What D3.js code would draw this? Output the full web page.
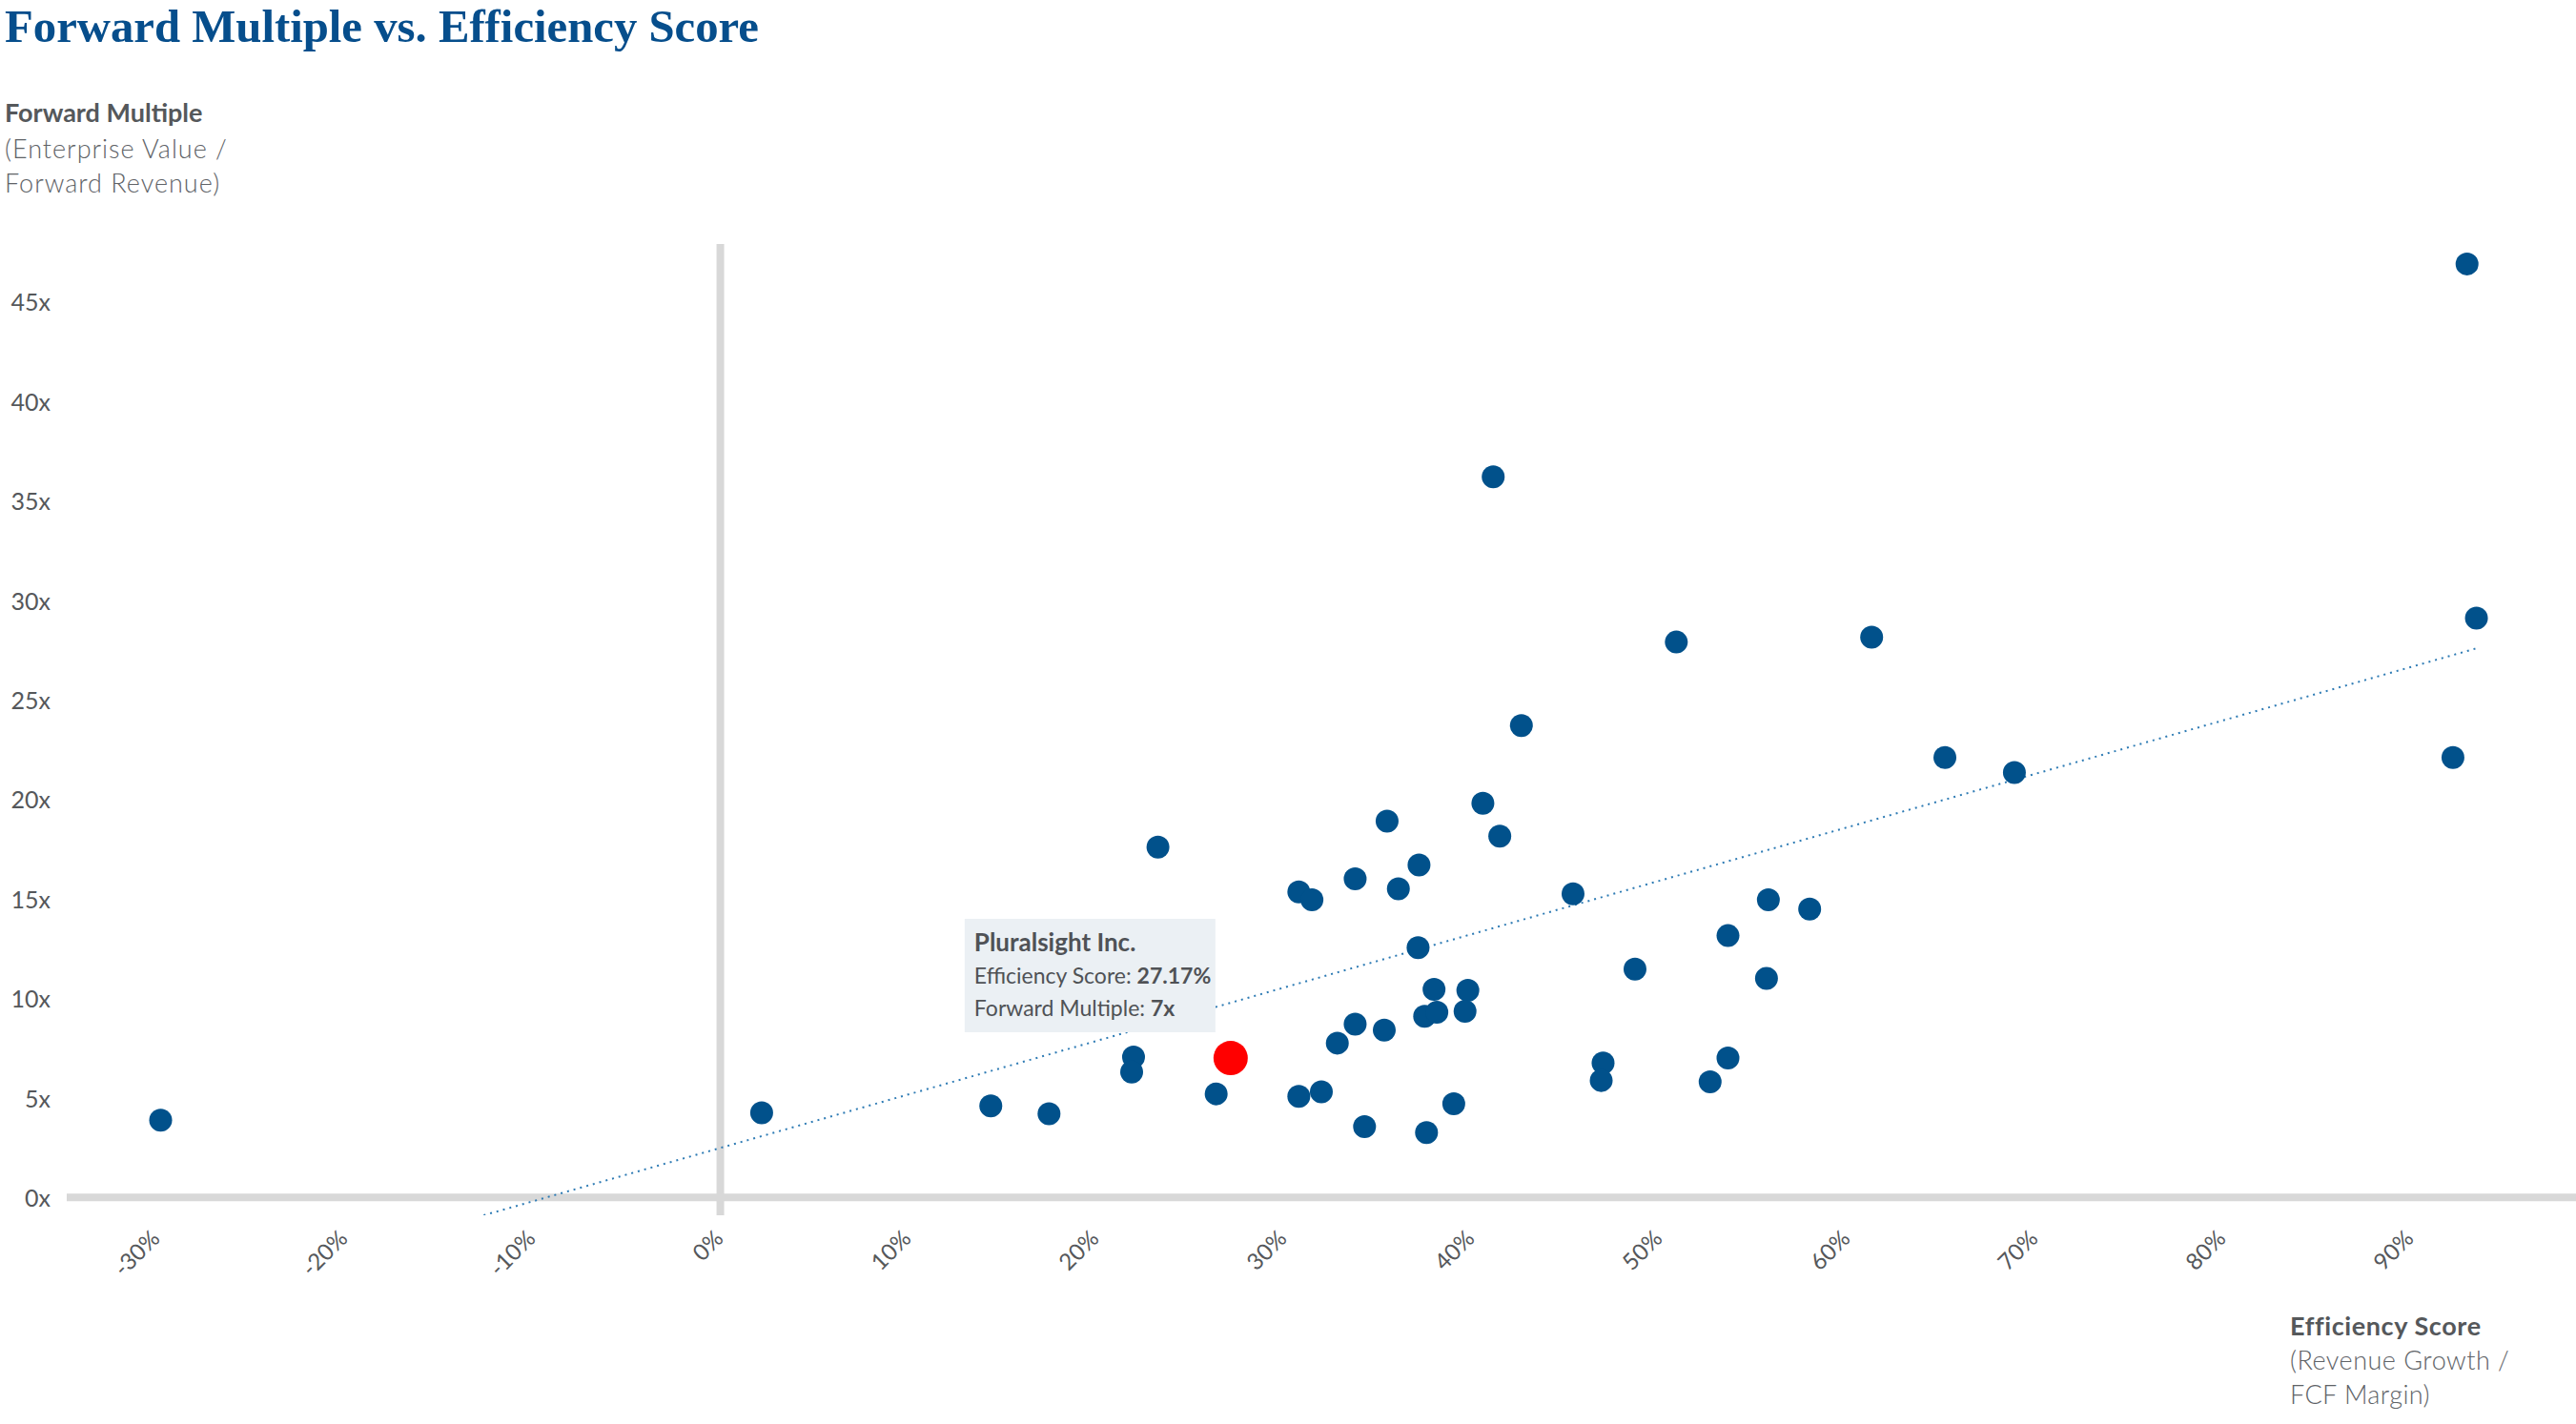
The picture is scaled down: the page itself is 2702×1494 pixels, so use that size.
<!DOCTYPE html>
<html><head><meta charset="utf-8">
<script src="https://cdn.jsdelivr.net/npm/d3@7"></script>
<style>
html,body{margin:0;padding:0;background:#fff;}
svg{display:block;font-family:Lato,"Noto Sans",sans-serif;}
</style></head><body>
<svg id="chart" width="2702" height="1494"></svg>
<script>
// Efficiency score (%) and forward multiple (x) for each company
const efficiency = [-29.8, 2.2, 14.4, 17.5, 22.0, 21.9, 23.3, 26.4, 30.8, 32.0,
  30.8, 31.5, 33.8, 35.5, 36.1, 37.2, 37.15, 32.85, 33.8, 35.35,
  34.3, 37.6, 39.05, 38.0, 39.8, 37.5, 38.15, 39.65, 40.6, 41.5,
  41.15, 42.65, 45.4, 47.0, 46.9, 48.7, 50.9, 52.7, 53.65, 53.65,
  55.8, 55.7, 58.0, 61.3, 65.2, 68.9, 92.25, 93.5, 93.0];
const multiple = [3.88, 4.25, 4.6, 4.2, 7.05, 6.3, 17.6, 5.2, 5.07, 5.3,
  15.35, 14.95, 16.0, 18.9, 15.5, 16.7, 12.55, 7.75, 8.7, 8.4,
  3.55, 3.25, 4.7, 10.45, 10.4, 9.1, 9.3, 9.35, 19.8, 18.15,
  36.2, 23.7, 15.25, 6.75, 5.87, 11.47, 27.9, 5.8, 7.0, 13.15,
  14.95, 11.0, 14.48, 28.15, 22.1, 21.35, 22.1, 29.1, 46.9];
// Highlighted company
const highlightName = "Pluralsight Inc.";
const highlightEfficiency = 27.17;
const highlightMultiple = 7;
// Trend line end points (efficiency %, multiple x)
const trendEfficiency = [-12.6, 93.45];
const trendMultiple = [-0.9, 27.57];
// Ticks
const xTicks = [-30, -20, -10, 0, 10, 20, 30, 40, 50, 60, 70, 80, 90];
const yTicks = [0, 5, 10, 15, 20, 25, 30, 35, 40, 45];

const svg = d3.select("#chart");
const plot = {left: 70, right: 2700, top: 256, bottom: 1275};
const x = d3.scaleLinear().domain([-34.8, 98.7]).range([plot.left, plot.right]);
const y = d3.scaleLinear().domain([-0.9, 47.9]).range([plot.bottom, plot.top]);

const labelColor = "#55585b";
const lightColor = "#606367";

// Title
svg.append("text")
  .attr("x", 5).attr("y", 44)
  .attr("font-family", "'Liberation Serif', 'DejaVu Serif', serif")
  .attr("font-weight", 700).attr("font-size", 49)
  .attr("fill", "#064e8c")
  .attr("textLength", 791).attr("lengthAdjust", "spacingAndGlyphs")
  .text("Forward Multiple vs. Efficiency Score");

// Y axis title
const yt = svg.append("g");
yt.append("text").attr("x", 5).attr("y", 128).attr("font-size", 27).attr("font-weight", 700).attr("fill", labelColor).text("Forward Multiple");
yt.append("text").attr("x", 5).attr("y", 165.5).attr("font-size", 27).attr("font-weight", 300).attr("letter-spacing", 1).attr("fill", lightColor).text("(Enterprise Value /");
yt.append("text").attr("x", 5).attr("y", 202).attr("font-size", 27).attr("font-weight", 300).attr("letter-spacing", 1).attr("fill", lightColor).text("Forward Revenue)");

// X axis title
const xt = svg.append("g");
xt.append("text").attr("x", 2402).attr("y", 1401).attr("font-size", 27).attr("font-weight", 700).attr("letter-spacing", 0.6).attr("fill", labelColor).text("Efficiency Score");
xt.append("text").attr("x", 2402).attr("y", 1437).attr("font-size", 27).attr("font-weight", 300).attr("letter-spacing", 0.5).attr("fill", lightColor).text("(Revenue Growth /");
xt.append("text").attr("x", 2402).attr("y", 1473).attr("font-size", 27).attr("font-weight", 300).attr("letter-spacing", 0.4).attr("fill", lightColor).text("FCF Margin)");

// Zero lines
svg.append("line")
  .attr("x1", plot.left).attr("x2", 2702)
  .attr("y1", y(0)).attr("y2", y(0))
  .attr("stroke", "#d8d8d8").attr("stroke-width", 8);
svg.append("line")
  .attr("x1", x(0)).attr("x2", x(0))
  .attr("y1", plot.top).attr("y2", plot.bottom)
  .attr("stroke", "#d8d8d8").attr("stroke-width", 8);

// Y axis
const yAxis = svg.append("g")
  .attr("transform", `translate(53,0)`)
  .call(d3.axisLeft(y).tickValues(yTicks).tickFormat(d => d + "x").tickSize(0).tickPadding(0));
yAxis.select(".domain").remove();
yAxis.selectAll("text")
  .attr("font-family", "Lato, 'Noto Sans', sans-serif")
  .attr("font-size", 25).attr("fill", labelColor).attr("dy", "0.37em");

// X axis
const xAxis = svg.append("g")
  .attr("transform", `translate(0,1301)`)
  .call(d3.axisBottom(x).tickValues(xTicks).tickFormat(d => d + "%").tickSize(0));
xAxis.select(".domain").remove();
xAxis.selectAll("text")
  .attr("font-family", "Lato, 'Noto Sans', sans-serif")
  .attr("font-size", 24).attr("fill", labelColor)
  .attr("x", 0).attr("y", 0).attr("dy", 0)
  .attr("text-anchor", "end")
  .attr("transform", "translate(4,0) rotate(-45)");

// Trend line
svg.append("clipPath").attr("id", "plotclip")
  .append("rect").attr("x", plot.left).attr("y", plot.top)
  .attr("width", plot.right - plot.left).attr("height", plot.bottom - plot.top);
svg.append("line")
  .attr("clip-path", "url(#plotclip)")
  .attr("x1", x(trendEfficiency[0])).attr("y1", y(trendMultiple[0]))
  .attr("x2", x(trendEfficiency[1])).attr("y2", y(trendMultiple[1]))
  .attr("stroke", "#2e7bb4").attr("stroke-width", 2)
  .attr("stroke-dasharray", "2,5");

// Points
svg.append("g").selectAll("circle")
  .data(efficiency.map((e, i) => [e, multiple[i]]))
  .join("circle")
  .attr("cx", d => x(d[0])).attr("cy", d => y(d[1]))
  .attr("r", 12).attr("fill", "#01518b");

// Highlight point
const hx = x(highlightEfficiency), hy = y(highlightMultiple);
svg.append("circle").attr("cx", hx).attr("cy", hy).attr("r", 18).attr("fill", "#ff0000");

// Tooltip
const tip = svg.append("g").attr("transform", `translate(${hx - 279},${hy - 146})`);
tip.append("rect").attr("width", 263).attr("height", 119).attr("fill", "#ebf0f4");
const tcol = "#4f5256";
tip.append("text").attr("x", 10).attr("y", 34).attr("font-size", 26).attr("font-weight", 700).attr("fill", tcol).text(highlightName);
const l2 = tip.append("text").attr("x", 10).attr("y", 68).attr("font-size", 23).attr("fill", tcol);
l2.append("tspan").text("Efficiency Score: ");
l2.append("tspan").attr("font-weight", 700).text(highlightEfficiency.toFixed(2) + "%");
const l3 = tip.append("text").attr("x", 10).attr("y", 102).attr("font-size", 23).attr("fill", tcol);
l3.append("tspan").text("Forward Multiple: ");
l3.append("tspan").attr("font-weight", 700).text(highlightMultiple + "x");
</script>
</body></html>
